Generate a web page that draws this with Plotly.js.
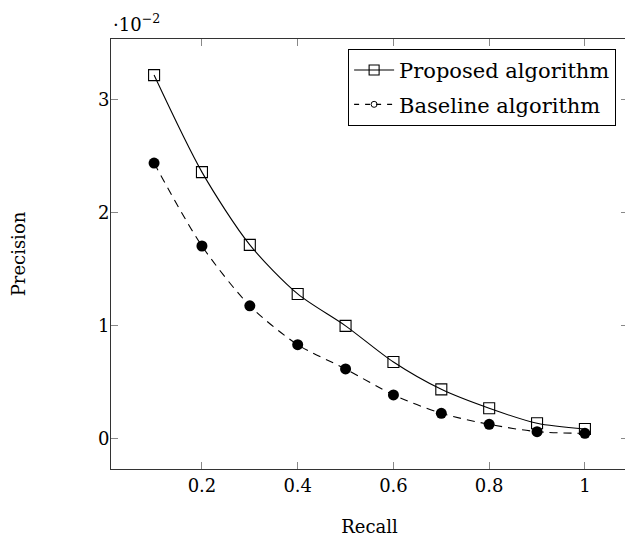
<!DOCTYPE html>
<html><head><meta charset="utf-8">
<script src="https://cdn.plot.ly/plotly-3.0.1.min.js"></script>
<style>html,body{margin:0;padding:0;overflow:hidden;background:#fff}</style>
</head><body><div id="plot"></div>
<script>
const recall = [0.1, 0.2, 0.3, 0.4, 0.5, 0.6, 0.7, 0.8, 0.9, 1.0];
const proposed = [3.22, 2.36, 1.715, 1.28, 0.997, 0.676, 0.434, 0.266, 0.133, 0.082];
const baseline = [2.44, 1.705, 1.175, 0.83, 0.615, 0.385, 0.222, 0.124, 0.059, 0.044];
const xTicks = [0.2, 0.4, 0.6, 0.8, 1];
const xTickText = ['0.2', '0.4', '0.6', '0.8', '1'];
const yTicks = [0, 1, 2, 3];
const seriesNames = ['Proposed algorithm', 'Baseline algorithm'];

const FONT = 'DejaVu Serif';
const traces = [
  {x: recall, y: proposed, mode: 'lines+markers', name: seriesNames[0], showlegend: false,
   line: {color: '#000', width: 1.1, shape: 'spline', smoothing: 0.8},
   marker: {symbol: 'square-open', size: 11, color: '#000', line: {width: 1.1, color: '#000'}}},
  {x: recall, y: baseline, mode: 'lines+markers', name: seriesNames[1], showlegend: false,
   line: {color: '#000', width: 1.1, dash: '8px,6px', shape: 'spline', smoothing: 0.8},
   marker: {symbol: 'circle', size: 11, color: '#000'}},
  {x: [null], y: [null], mode: 'lines+markers', name: seriesNames[0], legendgroup: 'a',
   line: {color: '#000', width: 1.1},
   marker: {symbol: 'square-open', size: 10, color: '#000', line: {width: 1.1, color: '#000'}}},
  {x: [null], y: [null], mode: 'lines+markers', name: seriesNames[1], legendgroup: 'b',
   line: {color: '#000', width: 1.1, dash: '5px,6px'},
   marker: {symbol: 'circle-open', size: 6, color: '#000', line: {width: 1, color: '#000'}}}
];
const layout = {
  width: 628, height: 537,
  margin: {l: 111, r: 0, t: 39, b: 68},
  paper_bgcolor: '#fff', plot_bgcolor: '#fff',
  font: {family: FONT, size: 18, color: '#000'},
  showlegend: true,
  legend: {x: 0.977, xanchor: 'right', y: 0.977, yanchor: 'top',
    bgcolor: '#fff', bordercolor: '#000', borderwidth: 1,
    font: {family: FONT, size: 21, color: '#000'}, tracegroupgap: 4, itemwidth: 40},
  xaxis: {range: [0.01, 1.09], tickvals: xTicks, ticktext: xTickText,
    ticks: 'inside', ticklen: 7, tickcolor: '#888', tickwidth: 1,
    showline: true, linecolor: '#333', linewidth: 1, mirror: 'ticks',
    showgrid: false, zeroline: false,
    tickfont: {family: FONT, size: 18},
    title: {text: 'Recall', font: {family: FONT, size: 18}, standoff: 28}},
  yaxis: {range: [-0.272, 3.54], tickvals: yTicks,
    ticks: 'inside', ticklen: 7, tickcolor: '#888', tickwidth: 1,
    showline: true, linecolor: '#333', linewidth: 1, mirror: 'ticks',
    showgrid: false, zeroline: false, ticklabelstandoff: -3,
    tickfont: {family: FONT, size: 18},
    title: {text: 'Precision', font: {family: FONT, size: 18}, standoff: 67}},
  annotations: [{xref: 'paper', yref: 'paper', x: 0, y: 1, xanchor: 'left', yanchor: 'bottom',
    xshift: 0, yshift: 2, showarrow: false, text: '·10<sup>−2</sup>',
    font: {family: FONT, size: 18, color: '#000'}}]
};
Plotly.newPlot('plot', traces, layout, {displayModeBar: false, staticPlot: true});
</script></body></html>
